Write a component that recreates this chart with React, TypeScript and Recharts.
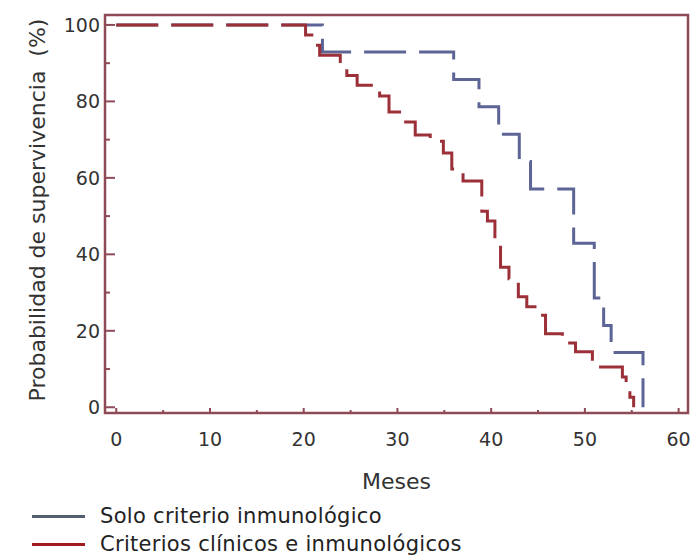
import React from 'react';
import { LineChart, Line, XAxis, YAxis, ReferenceArea } from 'recharts';

// Kaplan-Meier curves (months, % surviving)
const soloTimes = [0, 22, 36, 38.7, 40.8, 43, 44.2, 48.8, 51, 52, 52.8, 56.2];
const soloSurv = [100, 92.9, 85.7, 78.6, 71.4, 64.3, 57.1, 42.9, 28.6, 21.4, 14.3, 0];

const clinTimes = [0, 20.2, 21.1, 21.7, 23.9, 24.6, 25.7, 28.1, 29.1, 30.6, 31.9, 33.5, 34.9, 35.8, 37, 39, 39.6, 40.4, 41, 41.9, 42.9, 43.8, 45, 45.8, 47.6, 49, 50.8, 54, 54.4, 54.8, 55.2];
const clinSurv = [100, 97.4, 94.7, 92.1, 89.5, 86.8, 84.2, 81.4, 77.2, 74.6, 71.2, 69.6, 66.5, 62.3, 59.2, 51.3, 48.7, 43.4, 36.6, 33.6, 28.9, 26.3, 24.1, 19.2, 16.8, 14.5, 10.5, 7.9, 5.3, 2.6, 0];

const xTicks = [0, 5, 10, 15, 20, 25, 30, 35, 40, 45, 50, 55, 60];
const yTicks = [0, 10, 20, 30, 40, 50, 60, 70, 80, 90, 100];

const seriesNames = ['Solo criterio inmunológico', 'Criterios clínicos e inmunológicos'];
const seriesColors = ['#5d6596', '#9b3038'];
const legendColors = ['#525e70', '#a01c22'];

const FRAME = '#8e4a56';
const FONT = '"DejaVu Sans", Verdana, sans-serif';

const toRows = (times: number[], surv: number[]) => times.map((t, i) => ({ t, s: surv[i] }));
const soloData = toRows(soloTimes, soloSurv);
const clinData = toRows(clinTimes, clinSurv);

const XTick = (props: any) => {
  const { x, y, payload } = props;
  const major = payload.value % 10 === 0;
  const axisY = y - 20;
  return (
    <g>
      <line x1={x} x2={x} y1={axisY} y2={axisY - (major ? 5 : 3)} stroke={FRAME} strokeWidth={2} />
      {major && (
        <text x={x} y={y} dy="0.71em" textAnchor="middle" fontSize={19} fontFamily={FONT} fill="#333">
          {payload.value}
        </text>
      )}
    </g>
  );
};

const YTick = (props: any) => {
  const { x, y, payload } = props;
  const major = payload.value % 20 === 0;
  const axisX = x + 5;
  return (
    <g>
      <line x1={axisX} x2={axisX + (major ? 10 : 5)} y1={y} y2={y} stroke={FRAME} strokeWidth={2} />
      {major && (
        <text x={x} y={y} dy="0.36em" textAnchor="end" fontSize={19} fontFamily={FONT} fill="#333">
          {payload.value}
        </text>
      )}
    </g>
  );
};

const App: React.FC = () => {
  return (
    <div style={{ position: 'absolute', left: 0, top: 0, width: 694, height: 559, background: '#fff' }}>
      <LineChart width={694} height={559} margin={{ top: 15, right: 6, left: 8, bottom: 116 }}>
        <XAxis
          dataKey="t"
          type="number"
          domain={[-1.2, 61]}
          ticks={xTicks}
          tick={<XTick />}
          tickSize={0}
          tickMargin={20}
          axisLine={false}
          height={30}
          allowDuplicatedCategory={false}
          label={{
            content: (p: any) => (
              <text
                x={p.viewBox.x + p.viewBox.width / 2}
                y={p.viewBox.y + 76}
                textAnchor="middle"
                fontSize={22}
                fontFamily={FONT}
                fill="#333"
              >
                Meses
              </text>
            ),
          }}
        />
        <YAxis
          type="number"
          domain={[-1.5, 102.6]}
          ticks={yTicks}
          tick={<YTick />}
          tickSize={0}
          tickMargin={5}
          axisLine={false}
          width={97}
          label={{
            content: (p: any) => {
              const cx = p.viewBox.x + 37;
              const cy = p.viewBox.y + p.viewBox.height / 2 - 4;
              return (
                <text
                  x={cx}
                  y={cy}
                  transform={`rotate(-90 ${cx} ${cy})`}
                  textAnchor="middle"
                  fontSize={22}
                  fontFamily={FONT}
                  fill="#333"
                >
                  {'Probabilidad de supervivencia \u00a0(%)'}
                </text>
              );
            },
          }}
        />
        <Line
          data={soloData}
          dataKey="s"
          type="stepAfter"
          stroke={seriesColors[0]}
          strokeWidth={3}
          strokeDasharray="42 13"
          dot={false}
          activeDot={false}
          isAnimationActive={false}
        />
        <Line
          data={clinData}
          dataKey="s"
          type="stepAfter"
          stroke={seriesColors[1]}
          strokeWidth={3}
          strokeDasharray="42 13"
          dot={false}
          activeDot={false}
          isAnimationActive={false}
        />
        <ReferenceArea x1={-1.2} x2={61} y1={-1.5} y2={102.6} fill="none" stroke={FRAME} strokeWidth={2.5} />
      </LineChart>
      <div style={{ position: 'absolute', left: 0, top: 502, fontFamily: FONT, fontSize: 21, letterSpacing: 0.3, color: '#222' }}>
        {seriesNames.map((name, i) => (
          <div key={name} style={{ display: 'flex', alignItems: 'center', height: 28 }}>
            <div style={{ width: 53, height: 3, marginLeft: 32, marginRight: 15, background: legendColors[i] }} />
            <span style={{ whiteSpace: 'nowrap' }}>{name}</span>
          </div>
        ))}
      </div>
    </div>
  );
};

export default App;
